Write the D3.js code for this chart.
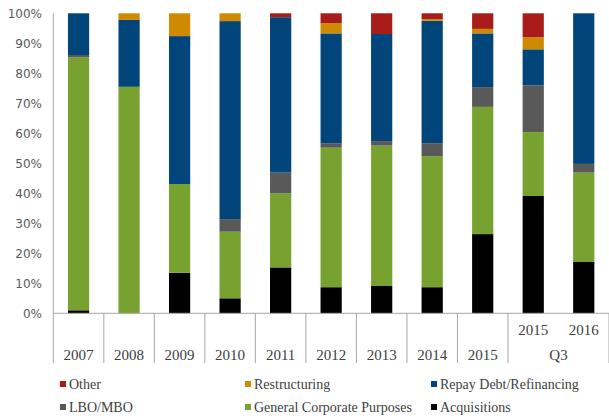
<!DOCTYPE html>
<html>
<head>
<meta charset="utf-8">
<script src="https://cdn.jsdelivr.net/npm/d3@7"></script>
<style>
  body { margin: 0; background: #fff; }
</style>
</head>
<body>
<div id="chart"></div>
<script>
// categories (bottom row label, top row label for the Q3 group)
const categories = ['2007', '2008', '2009', '2010', '2011', '2012', '2013', '2014', '2015', 'Q3 2015', 'Q3 2016'];
const innerLabels = ['2007', '2008', '2009', '2010', '2011', '2012', '2013', '2014', '2015', '2015', '2016'];
const groupLabel = 'Q3';

// series, bottom to top (percent of total)
const acquisitions = [1.0, 0.0, 13.5, 5.0, 15.3, 8.7, 9.1, 8.7, 26.4, 39.1, 17.1];
const generalCorporate = [84.3, 75.5, 29.6, 22.2, 24.7, 46.5, 46.8, 43.7, 42.4, 21.3, 29.8];
const lboMbo = [0.8, 0.0, 0.0, 4.2, 6.9, 1.5, 1.5, 4.3, 6.6, 15.6, 2.9];
const repayDebt = [13.9, 22.3, 49.3, 66.0, 51.8, 36.6, 35.7, 40.8, 17.9, 12.0, 50.2];
const restructuring = [0.0, 2.2, 7.6, 2.6, 0.0, 3.4, 0.0, 0.6, 1.5, 4.0, 0.0];
const other = [0.0, 0.0, 0.0, 0.0, 1.3, 3.3, 6.9, 1.9, 5.2, 8.0, 0.0];

const seriesNames = ['Acquisitions', 'General Corporate Purposes', 'LBO/MBO', 'Repay Debt/Refinancing', 'Restructuring', 'Other'];
const seriesValues = [acquisitions, generalCorporate, lboMbo, repayDebt, restructuring, other];
const seriesColors = ['#000000', '#78a22f', '#595959', '#02457a', '#d08a00', '#a81c1a'];
const yTicks = [0, 0.1, 0.2, 0.3, 0.4, 0.5, 0.6, 0.7, 0.8, 0.9, 1];

const width = 609;
const height = 418;
const plotLeft = 53.3, plotRight = 609, plotTop = 13.3, plotBottom = 313.3;

const svg = d3.select('#chart')
    .append('svg')
    .attr('width', width)
    .attr('height', height);

const rows = categories.map((c, i) => {
    const row = { category: c };
    seriesNames.forEach((s, j) => { row[s] = seriesValues[j][i]; });
    return row;
});

const stack = d3.stack().keys(seriesNames).offset(d3.stackOffsetExpand);
const stacked = stack(rows);

const x = d3.scaleBand()
    .domain(categories)
    .range([plotLeft, plotRight])
    .paddingInner(0.58)
    .paddingOuter(0.29);

const y = d3.scaleLinear()
    .domain([0, 1])
    .range([plotBottom, plotTop]);

const color = d3.scaleOrdinal().domain(seriesNames).range(seriesColors);

// bars
svg.append('g')
    .selectAll('g')
    .data(stacked)
    .enter()
    .append('g')
    .attr('fill', d => color(d.key))
    .selectAll('rect')
    .data(d => d)
    .enter()
    .append('rect')
    .attr('x', d => x(d.data.category))
    .attr('width', x.bandwidth())
    .attr('y', d => y(d[1]))
    .attr('height', d => Math.max(0, y(d[0]) - y(d[1])));

// y axis
const axisColor = '#a6a6a6';
svg.append('line')
    .attr('x1', plotLeft).attr('x2', plotLeft)
    .attr('y1', plotTop).attr('y2', 363)
    .attr('stroke', axisColor);

svg.append('g')
    .selectAll('text')
    .data(yTicks)
    .enter()
    .append('text')
    .attr('x', 42)
    .attr('y', d => y(d))
    .attr('dy', '0.35em')
    .attr('text-anchor', 'end')
    .style('font-family', '"DejaVu Sans", sans-serif')
    .style('font-size', '12px')
    .style('fill', '#595959')
    .text(d => d3.format('.0%')(d));

// x axis + category separators
svg.append('line')
    .attr('x1', plotLeft).attr('x2', plotRight)
    .attr('y1', plotBottom).attr('y2', plotBottom)
    .attr('stroke', axisColor);

const step = x.step();
const boundaries = d3.range(1, categories.length + 1)
    .filter(i => i !== categories.length - 1); // no divider inside the Q3 group
svg.append('g')
    .selectAll('line')
    .data(boundaries)
    .enter()
    .append('line')
    .attr('x1', i => plotLeft + i * step)
    .attr('x2', i => plotLeft + i * step)
    .attr('y1', plotBottom)
    .attr('y2', 363)
    .attr('stroke', axisColor);

const labelStyle = sel => sel
    .attr('text-anchor', 'middle')
    .style('font-family', '"Liberation Serif", serif')
    .style('font-size', '15px')
    .style('fill', '#404040');

svg.append('g')
    .selectAll('text')
    .data(categories)
    .enter()
    .append('text')
    .attr('x', d => x(d) + x.bandwidth() / 2)
    .attr('y', (d, i) => i >= 9 ? 330 : 355)
    .attr('dy', '0.35em')
    .call(labelStyle)
    .text((d, i) => innerLabels[i]);

svg.append('text')
    .attr('x', plotLeft + 10 * step)
    .attr('y', 355)
    .attr('dy', '0.35em')
    .call(labelStyle)
    .text(groupLabel);

// legend
const legendOrder = ['Other', 'Restructuring', 'Repay Debt/Refinancing', 'LBO/MBO', 'General Corporate Purposes', 'Acquisitions'];
const legendCols = [60, 245, 431];
const legendRows = [384, 407];

const legend = svg.append('g')
    .selectAll('g')
    .data(legendOrder)
    .enter()
    .append('g')
    .attr('transform', (d, i) => `translate(${legendCols[i % 3]}, ${legendRows[Math.floor(i / 3)]})`);

legend.append('rect')
    .attr('x', 0)
    .attr('y', -3)
    .attr('width', 6)
    .attr('height', 6)
    .attr('fill', d => color(d));

legend.append('text')
    .attr('x', 9)
    .attr('y', 0)
    .attr('dy', '0.35em')
    .style('font-family', '"Liberation Serif", serif')
    .style('font-size', '14px')
    .style('fill', '#404040')
    .text(d => d);
</script>
</body>
</html>
